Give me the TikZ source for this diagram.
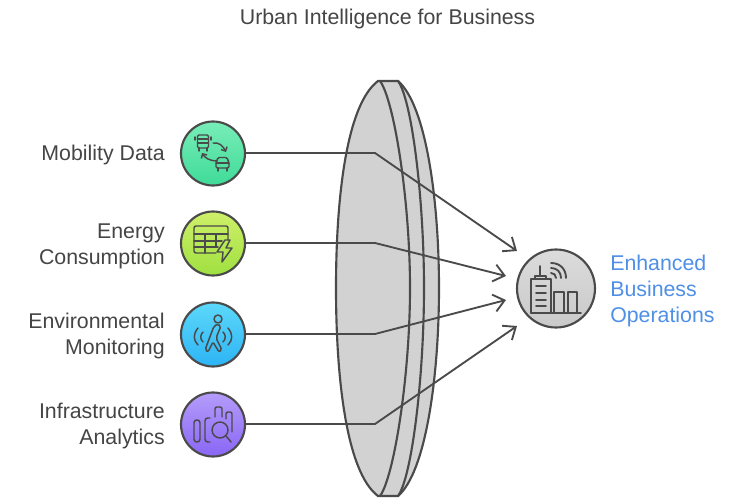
\documentclass[tikz,border=0pt]{standalone}
\usepackage{fontspec}
\setmainfont{Liberation Sans}
\usetikzlibrary{arrows.meta}
\definecolor{ink}{HTML}{4A4A4A}
\definecolor{txt}{HTML}{454545}
\definecolor{bluetxt}{HTML}{4F8FE6}
\definecolor{lensfill}{HTML}{D2D2D2}
\definecolor{HubAt}{HTML}{78EDB8}\definecolor{HubAb}{HTML}{3FDB98}
\definecolor{HubBt}{HTML}{CFF06A}\definecolor{HubBb}{HTML}{9FE040}
\definecolor{HubCt}{HTML}{5CD8FA}\definecolor{HubCb}{HTML}{2DB4F5}
\definecolor{HubDt}{HTML}{B49CFA}\definecolor{HubDb}{HTML}{8A66F5}
\tikzset{
 x=0.75pt,y=-0.75pt,
 hub/.style={circle,draw=ink,line width=1.6pt,minimum size=48pt,inner sep=0pt},
 target/.style={circle,draw=ink,line width=1.6pt,minimum size=58.5pt,inner sep=0pt,top color=gray!28!white,bottom color=gray!42!white},
 lbl/.style={font=\fontsize{16}{19.5}\selectfont,text=txt,align=right,anchor=east,inner sep=0pt},
 outlbl/.style={font=\fontsize{16}{19.5}\selectfont,text=bluetxt,align=left,anchor=west,inner sep=0pt},
 conn/.style={draw=ink,line width=1.4pt},
 tip/.style={-{Straight Barb[length=8pt,width=13pt,line width=1.4pt]}},
 lens/.style={draw=ink,line width=1.6pt,fill=lensfill},
 lensline/.style={draw=ink,line width=1.6pt},
 ico/.style={draw=ink,line width=1.1pt,line cap=round,line join=round,fill=none},
 bico/.style={ico,line width=1.4pt},
}
\begin{document}
\begin{tikzpicture}
\useasboundingbox (0,0) rectangle (750,498);
\fill[white] (0,0) rectangle (750,498);
\node[font=\fontsize{16}{18}\selectfont,text=txt,inner sep=0pt] (title) at (387.5,19) {Urban Intelligence for Business};
% lens
\path[lens] (378,81) -- (398,81) .. controls (426,105) and (439,200) .. (439,288)
  .. controls (439,376) and (426,472) .. (398,496) -- (378,496)
  .. controls (346,472) and (336,376) .. (336,288) .. controls (336,200) and (346,105) .. (378,81) -- cycle;
\path[lensline] (380,81) .. controls (394,100) and (410,200) .. (410,288) .. controls (410,376) and (394,477) .. (380,496);
\path[lensline] (398,81) .. controls (412,100) and (424,200) .. (424,288) .. controls (424,376) and (412,477) .. (398,496);
% nodes
\node[hub,top color=HubAt,bottom color=HubAb] (n1) at (213,153.5) {};
\node[hub,top color=HubBt,bottom color=HubBb] (n2) at (213,243.5) {};
\node[hub,top color=HubCt,bottom color=HubCb] (n3) at (213,334.5) {};
\node[hub,top color=HubDt,bottom color=HubDb] (n4) at (213,424.5) {};
\node[target] (t) at (556,288.5) {};
\coordinate (b1) at (375,153);\coordinate (b2) at (375,243);\coordinate (b3) at (375,334);\coordinate (b4) at (375,424);
\coordinate (e1) at (517,251);\coordinate (e2) at (506,276);\coordinate (e3) at (506,300);\coordinate (e4) at (517,326);
\draw[conn,tip] (n1.east |- b1) -- (b1) -- (e1);
\draw[conn,tip] (n2.east |- b2) -- (b2) -- (e2);
\draw[conn,tip] (n3.east |- b3) -- (b3) -- (e3);
\draw[conn,tip] (n4.east |- b4) -- (b4) -- (e4);
% labels
\node[lbl] (l1) at (165,155) {Mobility Data};
\node[lbl] (l2) at (165,246) {Energy\\Consumption};
\node[lbl] (l3) at (165,336) {Environmental\\Monitoring};
\node[lbl] (l4) at (165,426) {Infrastructure\\Analytics};
\node[outlbl] (o) at (610,291) {Enhanced\\Business\\Operations};
% bus / car icon
\draw[ico,rounded corners=1pt] (197.5,135) rectangle (208.5,148);
\draw[ico] (197.5,143) -- (208.5,143) (197.5,139) -- (208.5,139) (195,137) -- (195,140) (211,137) -- (211,140)
 (199,148) -- (199,151) (207,148) -- (207,151);
\draw[ico,-{Straight Barb[length=2.5pt,width=5pt]}] (213,143) .. controls (219,142) and (223,146) .. (226,152);
\draw[ico,rounded corners=1pt] (216,163) -- (218,157.5) -- (227,157.5) -- (229,163) -- (229,168) -- (216,168) -- cycle;
\draw[ico] (216,163) -- (229,163) (218,168) -- (218,171) (227,168) -- (227,171);
\draw[ico,-{Straight Barb[length=2.5pt,width=5pt]}] (217,161) .. controls (210,161) and (205,158) .. (202,153);
% table + bolt icon
\draw[ico,rounded corners=1.5pt] (216,253) -- (194,253) -- (194,226) -- (228,226) -- (228,240);
\draw[ico] (194,234) -- (228,234) (194,241) -- (222,241) (194,247) -- (218,247) (205,234) -- (205,253) (216,234) -- (216,247);
\draw[ico] (225,240) -- (217,252) -- (223,252) -- (222,262) -- (232,248) -- (226,248) -- (230,240) -- cycle;
% walker icon
\draw[ico] (218,319) circle[radius=4];
\draw[ico,rounded corners=1.5pt] (214,326) -- (205,350) -- (208,352) -- (213,342) -- (219,352) -- (222,350) -- (216,338) -- (221,326) -- (218,324) -- cycle;
\draw[ico] (198,328) .. controls (193,334) and (193,340) .. (198,345);
\draw[ico] (203,332) .. controls (200,335) and (200,339) .. (203,342);
\draw[ico] (228,328) .. controls (233,334) and (233,340) .. (228,345);
\draw[ico] (223,332) .. controls (226,335) and (226,339) .. (223,342);
% analytics icon
\draw[ico,rounded corners=2pt] (194,442) rectangle (200,420);
\draw[ico,rounded corners=2pt] (210,442) -- (205,442) -- (205,418) -- (210,418);
\draw[ico,rounded corners=1.5pt] (215,417) -- (215,407) -- (222,407) -- (222,417);
\draw[ico,rounded corners=1.5pt] (226,419) -- (226,412) -- (232,412) -- (232,432);
\draw[ico] (220,430) circle[radius=8];
\draw[ico] (226,436) -- (231,442);
% building icon
\draw[bico] (531,313) -- (581,313);
\draw[bico] (531,313) -- (531,279) -- (551,279) -- (551,313);
\draw[bico] (535,279) -- (535,276) -- (546,276) -- (546,279) (540,276) -- (540,266);
\draw[bico] (536,286) -- (546,286) (536,293) -- (546,293) (536,300) -- (546,300) (536,306) -- (546,306);
\draw[bico] (554,313) -- (554,292) -- (564,292) -- (564,313);
\draw[bico] (568,313) -- (568,292) -- (577,292) -- (577,313);
\draw[bico] (551,273) .. controls (554,273) and (556,275) .. (556,278);
\draw[bico] (551,268) .. controls (557,268) and (561,272) .. (561,278);
\draw[bico] (551,263) .. controls (560,263) and (566,269) .. (566,278);
\end{tikzpicture}
\end{document}
